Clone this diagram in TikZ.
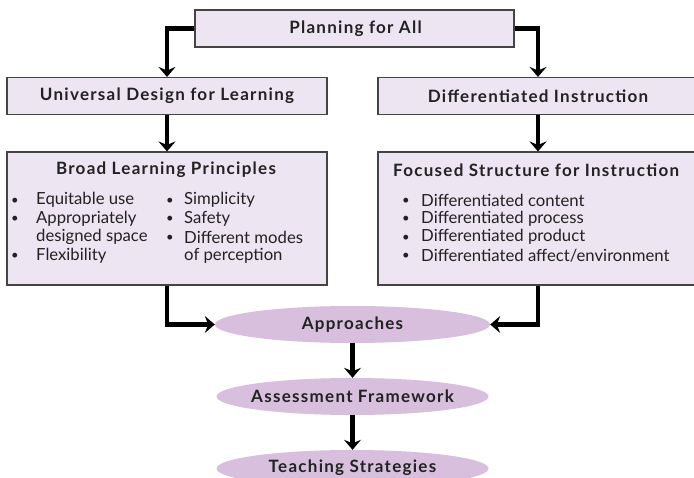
\documentclass[tikz,border=0pt]{standalone}
\usepackage{fontspec}
\setmainfont{Lato}
\usetikzlibrary{arrows.meta,shapes.geometric}
\definecolor{boxfill}{HTML}{EDE5F2}
\definecolor{boxline}{HTML}{444444}
\definecolor{ellfill}{HTML}{D7BFDD}
\definecolor{txt}{HTML}{222222}
\newcommand{\hdfont}{\fontsize{17}{19}\selectfont\bfseries\addfontfeatures{LetterSpace=7.5}}
\tikzset{
  box/.style={draw=boxline, line width=1.1pt, fill=boxfill, rectangle, inner sep=0pt},
  oval/.style={ellipse, fill=ellfill, draw=none, inner sep=0pt},
  head/.style={font=\hdfont, inner sep=0pt, text=txt},
  item/.style={font=\fontsize{16.7}{18.5}\selectfont, inner sep=0pt, anchor=west, text=txt},
  dot/.style={font=\fontsize{13}{16}\selectfont, inner sep=0pt, text=txt},
  arr/.style={line width=4.2pt, -{Stealth[length=10pt,width=17pt,inset=3.5pt]}}
}
\begin{document}
\begin{tikzpicture}[x=1pt,y=-1pt]
\useasboundingbox (0,0) rectangle (694,478);
\clip (0,0) rectangle (694,478);
% boxes
\node[box, minimum width=319pt, minimum height=37pt] (plan) at (354.5,28.5) {};
\node[head] (planT) at (355.5,28.5) {Planning for All};
\node[box, minimum width=320pt, minimum height=37pt] (udl) at (167,96) {};
\node[head] (udlT) at (167,96) {Universal Design for Learning};
\node[box, minimum width=320pt, minimum height=37pt] (di) at (538,96) {};
\node[head] (diT) at (538,96) {Differentiated Instruction};
\node[box, minimum width=320pt, minimum height=133pt] (broad) at (167,218.5) {};
\node[head] (broadT) at (166,170) {Broad Learning Principles};
\node[box, minimum width=320pt, minimum height=133pt] (focus) at (538,218.5) {};
\node[head, anchor=west] (focusT) at (393,170) {Focused Structure for Instruction};
% broad bullets
\node[dot] (b1d) at (15,201) {•};
\node[item] (b1) at (36,200) {Equitable use};
\node[dot] (b2d) at (15,219.5) {•};
\node[item] (b2) at (36,218.5) {Appropriately};
\node[item] (b2b) at (36,237) {designed space};
\node[dot] (b3d) at (15,256.5) {•};
\node[item] (b3) at (36,255.5) {Flexibility};
\node[dot] (b4d) at (170,201) {•};
\node[item] (b4) at (184,200) {Simplicity};
\node[dot] (b5d) at (170,219.5) {•};
\node[item] (b5) at (184,218.5) {Safety};
\node[dot] (b6d) at (170,238) {•};
\node[item] (b6) at (184,237) {Different modes};
\node[item] (b6b) at (184,255.5) {of perception};
% focus bullets
\node[dot] (f1d) at (406,201) {•};
\node[item] (f1) at (421,200) {Differentiated content};
\node[dot] (f2d) at (406,219.5) {•};
\node[item] (f2) at (421,218.5) {Differentiated process};
\node[dot] (f3d) at (406,238) {•};
\node[item] (f3) at (421,237) {Differentiated product};
\node[dot] (f4d) at (406,256.5) {•};
\node[item] (f4) at (421,255.5) {Differentiated affect/environment};
% ovals
\node[oval, minimum width=275pt, minimum height=37pt] (appr) at (352.5,324.5) {};
\node[head] (apprT) at (352.5,324.5) {Approaches};
\node[oval, minimum width=272pt, minimum height=37pt] (assess) at (352.5,396.5) {};
\node[head] (assessT) at (352.5,396.5) {Assessment Framework};
\node[oval, minimum width=272pt, minimum height=37pt] (teach) at (352.5,468.5) {};
\node[head] (teachT) at (352.5,467.5) {Teaching Strategies};
% connectors
\draw[arr] (plan.west) -| (udl.north);
\draw[arr] (plan.east) -| (di.north);
\draw[arr] (udl.south) -- (broad.north);
\draw[arr] (di.south) -- (focus.north);
\draw[arr] (broad.south) |- (appr.west);
\draw[arr] (focus.south) |- (appr.east);
\draw[arr] (appr.south) -- (assess.north);
\draw[arr] (assess.south) -- (teach.north);
\end{tikzpicture}
\end{document}
